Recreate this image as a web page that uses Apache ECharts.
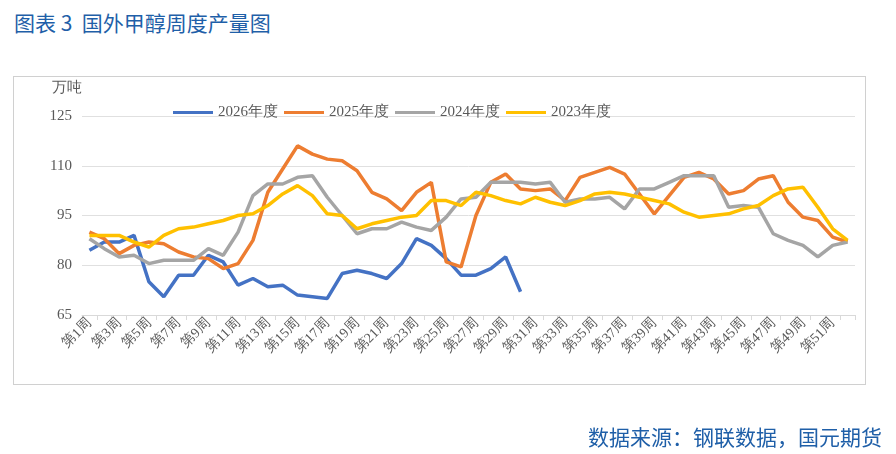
<!DOCTYPE html>
<html>
<head>
<meta charset="utf-8">
<script src="https://cdn.jsdelivr.net/npm/echarts@6/dist/echarts.min.js"></script>
<style>
body{margin:0;background:#fff;}
#title{position:absolute;left:14px;top:7px;font:21px "Noto Sans CJK SC";color:#1f5fa8;}
#box{position:absolute;left:13px;top:76px;width:851px;height:307px;border:1px solid #d0d0d0;}
#main{position:absolute;left:0;top:0;width:896px;height:454px;}
#src{position:absolute;right:14px;top:421px;font:21px "Noto Sans CJK SC";color:#1f5fa8;}
</style>
</head>
<body>
<div id="title">图表 3&nbsp; 国外甲醇周度产量图</div>
<div id="box"></div>
<div id="main"></div>
<div id="src">数据来源：钢联数据，国元期货</div>
<script>
var weeks = [];
for (var i = 1; i <= 52; i++) weeks.push('第' + i + '周');
var y2026 = [84.5,87,87,89,75,70.5,77,77,83,81,74,76,73.5,74,71,70.5,70,77.5,78.5,77.5,76,80.5,88,86,82,77,77,79,82.5,72];
var y2025 = [90,88,83.5,86,87,86.5,84,82.5,82,79,80.5,87.5,102,109,116,113.5,112,111.5,108.5,102,100,96.5,102,105,81,79.5,95,105,107.5,103,102.5,103,99.5,106.5,108,109.5,107.5,101.5,95.5,101,106.5,108,106,101.5,102.5,106,107,99,94.5,93.5,88.5,87];
var y2024 = [88,85,82.5,83,80.5,81.5,81.5,81.5,85,83,90,101,104.5,104.5,106.5,107,100.5,95,89.5,91,91,93,91.5,90.5,94.5,100,100.5,105,105,105,104.5,105,99,100,100,100.5,97,103,103,105,107,107,107,97.5,98,97.5,89.5,87.5,86,82.5,86,87];
var y2023 = [89,89,89,87,85.5,89,91,91.5,92.5,93.5,95,95.5,98,101.5,104,101,95.5,95,91,92.5,93.5,94.5,95,99.5,99.5,98,102,101,99.5,98.5,100.5,99,98,99.5,101.5,102,101.5,100.5,99.5,98.5,96,94.5,95,95.5,97,98,101,103,103.5,97.5,91,87.5];
var names = ['2026年度','2025年度','2024年度','2023年度'];
var colors = ['#4472c4','#ed7d31','#a5a5a5','#ffc000'];
var chart = echarts.init(document.getElementById('main'));
var serif = 'Liberation Serif';
function s(n, d, c) {
  return {name: n, type: 'line', data: d, symbol: 'none', lineStyle: {width: 3.5, color: c}, itemStyle: {color: c}};
}
chart.setOption({
  animation: false,
  color: colors,
  legend: {top: 100, left: 168, itemWidth: 40, itemHeight: 3, itemGap: 6, icon: 'rect',
    textStyle: {fontFamily: serif, fontSize: 15, color: '#595959'}, data: names},
  grid: {left: 82, right: 41, top: 116, bottom: 139},
  xAxis: {type: 'category', data: weeks, boundaryGap: true,
    axisLine: {lineStyle: {color: '#d9d9d9'}},
    axisTick: {show: true, interval: 0, length: 5, lineStyle: {color: '#d9d9d9'}},
    axisLabel: {interval: 1, rotate: 45, fontFamily: serif, fontSize: 14, color: '#595959', margin: 6}},
  yAxis: {type: 'value', min: 65, max: 125, interval: 15, name: '万吨',
    nameLocation: 'end', nameGap: 20, nameTextStyle: {fontFamily: serif, fontSize: 15, color: '#595959', align: 'right'},
    axisLine: {show: false}, axisTick: {show: false},
    splitLine: {lineStyle: {color: '#e0e0e0'}},
    axisLabel: {fontFamily: serif, fontSize: 15, color: '#595959', margin: 10}},
  series: [s(names[0], y2026, colors[0]), s(names[1], y2025, colors[1]), s(names[2], y2024, colors[2]), s(names[3], y2023, colors[3])]
});
</script>
</body>
</html>
